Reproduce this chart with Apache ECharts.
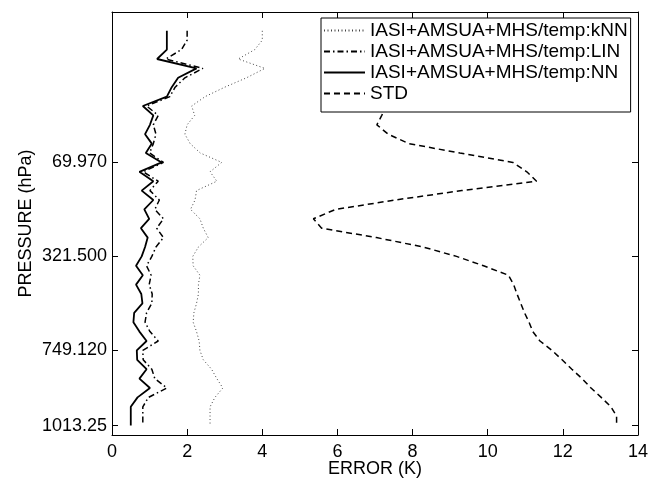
<!DOCTYPE html>
<html>
<head>
<meta charset="utf-8">
<script src="https://cdn.jsdelivr.net/npm/echarts@6/dist/echarts.min.js"></script>
<style>html,body{margin:0;padding:0;background:#fff}#c{width:655px;height:480px}</style>
</head>
<body>
<div id="c"></div>
<script>
// pressure level index (RTTOV 43 levels)
var levels = [1,2,3,4,5,6,7,8,9,10,11,12,13,14,15,16,17,18,19,20,21,22,23,24,25,26,27,28,29,30,31,32,33,34,35,36,37,38,39,40,41,42,43];
var tickLevels = [15, 25, 35, 43];
var tickLabels = ['69.970', '321.500', '749.120', '1013.25'];

var knn = [4.0,4.0,3.8,3.36,4.07,3.58,3.0,2.48,2.12,2.2,2.0,1.94,2.08,2.35,2.92,2.61,2.79,2.25,2.21,2.09,2.34,2.43,2.56,2.30,2.15,2.16,2.34,2.30,2.30,2.25,2.18,2.16,2.25,2.32,2.34,2.43,2.65,2.79,2.95,2.74,2.61,2.61,2.61];
var lin = [2.0,2.0,1.85,1.43,2.42,1.94,1.68,1.54,0.92,1.23,1.1,1.17,1.1,1.0,1.37,0.83,1.23,1.01,1.26,1.14,1.37,1.19,1.37,1.17,1.06,0.92,1.04,0.99,1.07,1.06,0.92,0.88,1.01,1.23,0.82,0.83,1.06,1.14,1.46,0.97,0.82,0.82,0.82];
var nn = [1.46,1.46,1.46,1.2,2.25,1.76,1.59,1.46,0.82,1.1,1.01,0.88,1.06,0.9,1.32,0.73,1.1,0.79,1.1,0.86,0.99,0.77,0.95,0.88,0.79,0.64,0.82,0.64,0.78,0.81,0.59,0.57,0.73,0.92,0.66,0.67,0.92,0.73,1.01,0.68,0.5,0.5,0.5];
var std = [8.5,9.0,9.3,9.0,8.5,8.0,7.7,7.5,7.3,7.18,7.05,7.35,7.9,9.26,10.67,11.04,11.3,9.31,7.54,5.95,5.36,5.58,7.04,8.28,9.17,9.89,10.55,10.69,10.78,10.88,10.98,11.1,11.2,11.39,11.71,11.98,12.24,12.51,12.75,13.02,13.28,13.43,13.43];
var names = ['IASI+AMSUA+MHS/temp:kNN', 'IASI+AMSUA+MHS/temp:LIN', 'IASI+AMSUA+MHS/temp:NN', 'STD'];

function pairs(vals) { return vals.map(function (v, i) { return [v, levels[i]]; }); }

var FONT = 'Liberation Sans';
var chart = echarts.init(document.getElementById('c'), null, {renderer: 'canvas'});
function axisLine() { return {show: true, onZero: false, lineStyle: {color: '#000', width: 1}}; }
chart.setOption({
  animation: false,
  backgroundColor: '#fff',
  textStyle: {fontFamily: FONT},
  grid: {left: 112, right: 17, top: 12, bottom: 45, containLabel: false, outerBoundsMode: 'none'},
  legend: {
    orient: 'vertical', left: 321, top: 18,
    padding: [3, 3, 9, 2], itemGap: 2,
    itemWidth: 41, itemHeight: 19,
    backgroundColor: '#fff', borderColor: '#000', borderWidth: 1,
    itemStyle: {opacity: 0, borderWidth: 0},
    textStyle: {fontFamily: FONT, fontSize: 19, color: '#000'},
    data: names
  },
  xAxis: [{
    type: 'value', min: 0, max: 14, interval: 2, position: 'bottom',
    name: 'ERROR (K)', nameLocation: 'middle', nameGap: 25, nameMoveOverlap: false,
    nameTextStyle: {fontFamily: FONT, fontSize: 18, color: '#000'},
    axisLine: axisLine(),
    axisTick: {show: true, inside: true, length: 6, lineStyle: {color: '#000'}},
    axisLabel: {fontFamily: FONT, fontSize: 18, color: '#000', margin: 8},
    splitLine: {show: false}
  }, {
    type: 'value', min: 0, max: 14, interval: 2, position: 'top',
    axisLine: axisLine(),
    axisTick: {show: true, inside: true, length: 6, lineStyle: {color: '#000'}},
    axisLabel: {show: false}, splitLine: {show: false}
  }],
  yAxis: [{
    type: 'value', min: -1, max: 44, inverse: true, position: 'left',
    name: 'PRESSURE (hPa)', nameLocation: 'middle', nameGap: 77, nameRotate: 90, nameMoveOverlap: false,
    nameTextStyle: {fontFamily: FONT, fontSize: 18, color: '#000'},
    axisLine: axisLine(),
    axisTick: {show: true, inside: true, length: 6, customValues: tickLevels, lineStyle: {color: '#000'}},
    axisLabel: {fontFamily: FONT, fontSize: 18, color: '#000', margin: 5, customValues: tickLevels,
      formatter: function (v) { var i = tickLevels.indexOf(v); return i >= 0 ? tickLabels[i] : ''; }},
    splitLine: {show: false}
  }, {
    type: 'value', min: -1, max: 44, inverse: true, position: 'right',
    axisLine: axisLine(),
    axisTick: {show: true, inside: true, length: 6, customValues: tickLevels, lineStyle: {color: '#000'}},
    axisLabel: {show: false}, splitLine: {show: false}
  }],
  series: [{
    name: names[0], type: 'line', data: pairs(knn), symbol: 'none', z: 2,
    lineStyle: {color: '#444', width: 1, type: [1, 2.5]}, itemStyle: {color: '#444'}
  }, {
    name: names[1], type: 'line', data: pairs(lin), symbol: 'none', z: 3,
    lineStyle: {color: '#000', width: 1.5, type: [6, 3, 1.5, 3]}, itemStyle: {color: '#000'}
  }, {
    name: names[2], type: 'line', data: pairs(nn), symbol: 'none', z: 4,
    lineStyle: {color: '#000', width: 1.8, type: 'solid'}, itemStyle: {color: '#000'}
  }, {
    name: names[3], type: 'line', data: pairs(std), symbol: 'none', z: 2,
    lineStyle: {color: '#000', width: 1.5, type: [6, 4]}, itemStyle: {color: '#000'}
  }]
});
</script>
</body>
</html>
